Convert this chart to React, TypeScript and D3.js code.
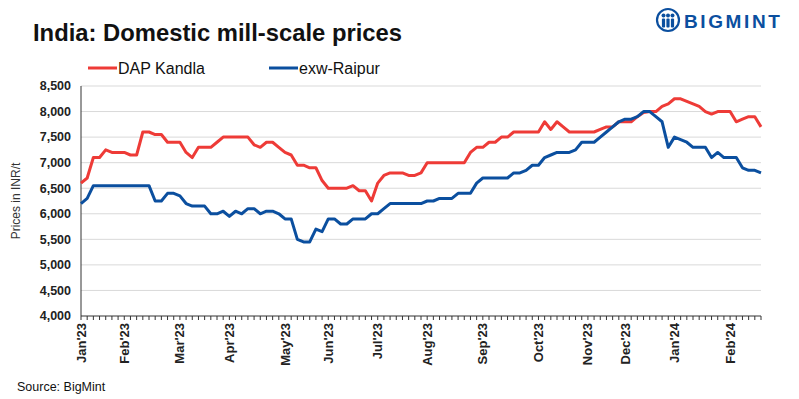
import React, { useEffect, useRef } from "react";
import * as d3 from "d3";

// Twice-weekly assessments, Jan'23 to late Feb'24 (111 points)
const dapKandla = [
  6600, 6700, 7100, 7100, 7250, 7200, 7200, 7200, 7150, 7150,
  7600, 7600, 7550, 7550, 7400, 7400, 7400, 7200, 7100, 7300,
  7300, 7300, 7400, 7500, 7500, 7500, 7500, 7500, 7350, 7300,
  7400, 7400, 7300, 7200, 7150, 6950, 6950, 6900, 6900, 6650,
  6500, 6500, 6500, 6500, 6550, 6450, 6450, 6250, 6600, 6750,
  6800, 6800, 6800, 6750, 6750, 6800, 7000, 7000, 7000, 7000,
  7000, 7000, 7000, 7200, 7300, 7300, 7400, 7400, 7500, 7500,
  7600, 7600, 7600, 7600, 7600, 7800, 7650, 7800, 7700, 7600,
  7600, 7600, 7600, 7600, 7650, 7700, 7700, 7800, 7800, 7800,
  7900, 7980, 8000, 8000, 8100, 8150, 8250, 8250, 8200, 8150,
  8100, 8000, 7950, 8000, 8000, 8000, 7800, 7850, 7900, 7900,
  7700,
];

const exwRaipur = [
  6200, 6300, 6550, 6550, 6550, 6550, 6550, 6550, 6550, 6550,
  6550, 6550, 6250, 6250, 6400, 6400, 6350, 6200, 6150, 6150,
  6150, 6000, 6000, 6050, 5950, 6050, 6000, 6100, 6100, 6000,
  6050, 6050, 6000, 5900, 5900, 5500, 5450, 5450, 5700, 5650,
  5900, 5900, 5800, 5800, 5900, 5900, 5900, 6000, 6000, 6100,
  6200, 6200, 6200, 6200, 6200, 6200, 6250, 6250, 6300, 6300,
  6300, 6400, 6400, 6400, 6600, 6700, 6700, 6700, 6700, 6700,
  6800, 6800, 6850, 6950, 6950, 7100, 7150, 7200, 7200, 7200,
  7250, 7400, 7400, 7400, 7500, 7600, 7700, 7800, 7850, 7850,
  7900, 8000, 8000, 7900, 7800, 7300, 7500, 7450, 7400, 7300,
  7300, 7300, 7100, 7200, 7100, 7100, 7100, 6900, 6850, 6850,
  6800,
];

const monthLabels = [
  "Jan'23", "Feb'23", "Mar'23", "Apr'23", "May'23", "Jun'23", "Jul'23",
  "Aug'23", "Sep'23", "Oct'23", "Nov'23", "Dec'23", "Jan'24", "Feb'24",
];
const monthStartIdx = [0, 7, 16, 24, 33, 40, 48, 56, 65, 74, 82, 88, 96, 105];

const yTicks = [4000, 4500, 5000, 5500, 6000, 6500, 7000, 7500, 8000, 8500];

const RED = "#ee3b37";
const BLUE = "#0b4f9f";
const FONT = "'Liberation Sans', Arial, sans-serif";

export default function App() {
  const svgRef = useRef<SVGSVGElement>(null);
  const width = 799;
  const height = 399;

  useEffect(() => {
    if (!svgRef.current) return;
    const svg = d3.select(svgRef.current);
    svg.selectAll("*").remove();

    const left = 81;
    const right = 761;
    const top = 86;
    const bottom = 316;

    const x = d3
      .scaleLinear()
      .domain([0, dapKandla.length - 1])
      .range([left, right]);
    const y = d3.scaleLinear().domain([4000, 8500]).range([bottom, top]);

    svg
      .append("rect")
      .attr("width", width)
      .attr("height", height)
      .attr("fill", "#fff");

    // Title
    svg
      .append("text")
      .attr("x", 33)
      .attr("y", 41)
      .attr("font-family", FONT)
      .attr("font-size", 23.8)
      .attr("font-weight", 700)
      .attr("fill", "#111")
      .text("India: Domestic mill-scale prices");

    // Logo
    const logo = svg.append("g").attr("transform", "translate(668,20)");
    logo
      .append("circle")
      .attr("r", 11)
      .attr("fill", "none")
      .attr("stroke", BLUE)
      .attr("stroke-width", 2.2);
    [-4.5, 0, 4.5].forEach((dx) => {
      logo
        .append("circle")
        .attr("cx", dx)
        .attr("cy", -4.5)
        .attr("r", 2)
        .attr("fill", BLUE);
      logo
        .append("rect")
        .attr("x", dx - 1.6)
        .attr("y", -1.5)
        .attr("width", 3.2)
        .attr("height", 9)
        .attr("rx", 1)
        .attr("fill", BLUE);
    });
    svg
      .append("text")
      .attr("x", 684)
      .attr("y", 27.5)
      .attr("font-family", FONT)
      .attr("font-size", 19)
      .attr("font-weight", 700)
      .attr("letter-spacing", 2.6)
      .attr("fill", BLUE)
      .text("BIGMINT");

    // Legend
    const legend = [
      { name: "DAP Kandla", color: RED, x: 88 },
      { name: "exw-Raipur", color: BLUE, x: 269 },
    ];
    legend.forEach((l) => {
      svg
        .append("line")
        .attr("x1", l.x)
        .attr("x2", l.x + 29)
        .attr("y1", 68)
        .attr("y2", 68)
        .attr("stroke", l.color)
        .attr("stroke-width", 3);
      svg
        .append("text")
        .attr("x", l.x + 30)
        .attr("y", 73.5)
        .attr("font-family", FONT)
        .attr("font-size", 16)
        .attr("fill", "#111")
        .text(l.name);
    });

    // Gridlines
    svg
      .append("g")
      .selectAll("line")
      .data(yTicks.filter((t) => t > 4000))
      .join("line")
      .attr("x1", left)
      .attr("x2", right)
      .attr("y1", (d) => y(d))
      .attr("y2", (d) => y(d))
      .attr("stroke", "#d9d9d9")
      .attr("stroke-width", 1);

    // Y axis
    svg
      .append("g")
      .selectAll("text")
      .data(yTicks)
      .join("text")
      .attr("x", 71)
      .attr("y", (d) => y(d))
      .attr("dy", "0.35em")
      .attr("text-anchor", "end")
      .attr("font-family", FONT)
      .attr("font-size", 12.5)
      .attr("font-weight", 700)
      .attr("fill", "#222")
      .text((d) => d3.format(",")(d));

    svg
      .append("line")
      .attr("x1", left)
      .attr("x2", left)
      .attr("y1", top)
      .attr("y2", bottom)
      .attr("stroke", "#333")
      .attr("stroke-width", 1);

    svg
      .append("text")
      .attr("transform", `translate(20,${(top + bottom) / 2}) rotate(-90)`)
      .attr("text-anchor", "middle")
      .attr("font-family", FONT)
      .attr("font-size", 12)
      .attr("fill", "#333")
      .text("Prices in INR/t");

    // X axis
    svg
      .append("line")
      .attr("x1", left)
      .attr("x2", right)
      .attr("y1", bottom)
      .attr("y2", bottom)
      .attr("stroke", "#333")
      .attr("stroke-width", 1);

    svg
      .append("g")
      .selectAll("line")
      .data(d3.range(dapKandla.length))
      .join("line")
      .attr("x1", (d) => x(d))
      .attr("x2", (d) => x(d))
      .attr("y1", bottom)
      .attr("y2", bottom + 4)
      .attr("stroke", "#333")
      .attr("stroke-width", 1);

    svg
      .append("g")
      .selectAll("text")
      .data(monthLabels)
      .join("text")
      .attr(
        "transform",
        (d, i) => `translate(${x(monthStartIdx[i])},${bottom + 7}) rotate(-90)`
      )
      .attr("dy", "0.35em")
      .attr("text-anchor", "end")
      .attr("font-family", FONT)
      .attr("font-size", 13)
      .attr("font-weight", 700)
      .attr("fill", "#222")
      .text((d) => d);

    // Lines
    const line = d3
      .line<number>()
      .x((_, i) => x(i))
      .y((d) => y(d));

    svg
      .append("path")
      .datum(dapKandla)
      .attr("d", line)
      .attr("fill", "none")
      .attr("stroke", RED)
      .attr("stroke-width", 3)
      .attr("stroke-linejoin", "round");

    svg
      .append("path")
      .datum(exwRaipur)
      .attr("d", line)
      .attr("fill", "none")
      .attr("stroke", BLUE)
      .attr("stroke-width", 3)
      .attr("stroke-linejoin", "round");

    // Source
    svg
      .append("text")
      .attr("x", 17)
      .attr("y", 391)
      .attr("font-family", FONT)
      .attr("font-size", 12.5)
      .attr("fill", "#111")
      .text("Source: BigMint");
  }, []);

  return (
    <svg
      ref={svgRef}
      width={width}
      height={height}
      style={{ position: "absolute", left: 0, top: 0 }}
    />
  );
}
